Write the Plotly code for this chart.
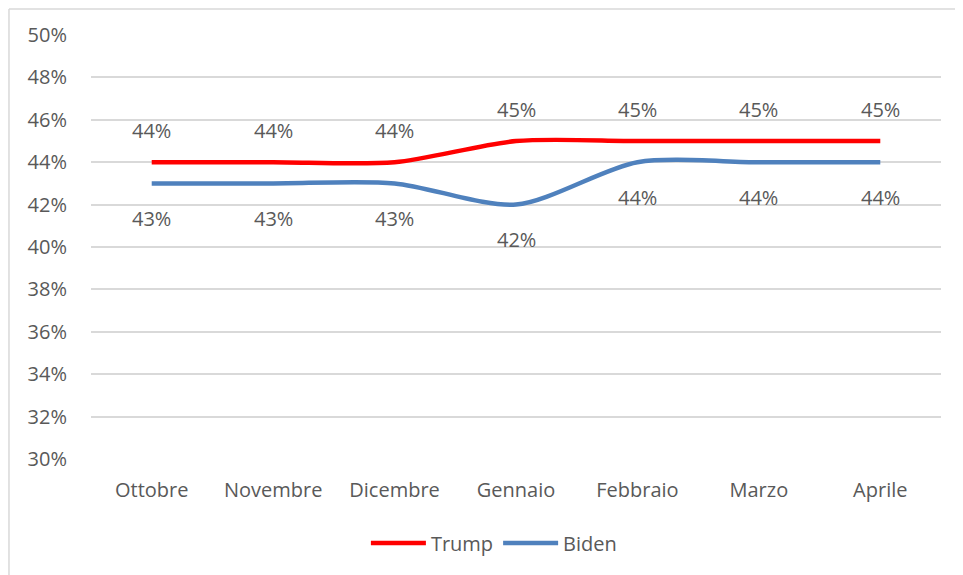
import plotly.graph_objects as go

months = ["Ottobre", "Novembre", "Dicembre", "Gennaio", "Febbraio", "Marzo", "Aprile"]
trump = [0.44, 0.44, 0.44, 0.45, 0.45, 0.45, 0.45]
biden = [0.43, 0.43, 0.43, 0.42, 0.44, 0.44, 0.44]
y_ticks = [0.30, 0.32, 0.34, 0.36, 0.38, 0.40, 0.42, 0.44, 0.46, 0.48, 0.50]

FONT = "Open Sans"
GREY = "#595959"
FS = 20

fig = go.Figure()
fig.add_trace(go.Scatter(x=months, y=trump, name="Trump", mode="lines",
                         line=dict(color="#FF0000", width=4.5, shape="spline", smoothing=0.8)))
fig.add_trace(go.Scatter(x=months, y=biden, name="Biden", mode="lines",
                         line=dict(color="#4F81BD", width=4.5, shape="spline", smoothing=0.8)))

annotations = []
for m, v in zip(months, trump):
    annotations.append(dict(x=m, y=v, text=f"{round(v*100)}%", showarrow=False,
                            yshift=32, font=dict(family=FONT, size=FS, color=GREY)))
for m, v in zip(months, biden):
    annotations.append(dict(x=m, y=v, text=f"{round(v*100)}%", showarrow=False,
                            yshift=-35, font=dict(family=FONT, size=FS, color=GREY)))

shapes = [
    dict(type="line", xref="paper", yref="paper", x0=-0.0965, x1=1.03, y0=1.0615, y1=1.0615,
         line=dict(color="#D9D9D9", width=1.5)),
    dict(type="line", xref="paper", yref="paper", x0=-0.0965, x1=-0.0965, y0=1.0615, y1=-0.28,
         line=dict(color="#D9D9D9", width=1.5)),
]

fig.update_layout(
    width=955, height=567,
    margin=dict(l=83, r=22, t=27, b=116),
    paper_bgcolor="white", plot_bgcolor="white",
    font=dict(family=FONT, size=FS, color=GREY),
    showlegend=True,
    legend=dict(orientation="h", x=0.474, xanchor="center", y=-0.198, yanchor="middle",
                font=dict(family=FONT, size=FS, color=GREY), itemwidth=55),
    annotations=annotations,
    shapes=shapes,
)
fig.update_xaxes(range=[-0.5, 6.5], showgrid=False, showline=False, zeroline=False,
                 ticks="outside", ticklen=13, tickcolor="rgba(0,0,0,0)",
                 tickfont=dict(family=FONT, size=FS, color=GREY))
fig.update_yaxes(range=[0.30, 0.50], tickvals=y_ticks, tickformat=".0%",
                 showgrid=True, gridcolor="#D9D9D9", gridwidth=1.5, zeroline=False, showline=False,
                 ticks="outside", ticklen=19, tickcolor="rgba(0,0,0,0)",
                 tickfont=dict(family=FONT, size=FS, color=GREY))

fig.write_html("out.html")
